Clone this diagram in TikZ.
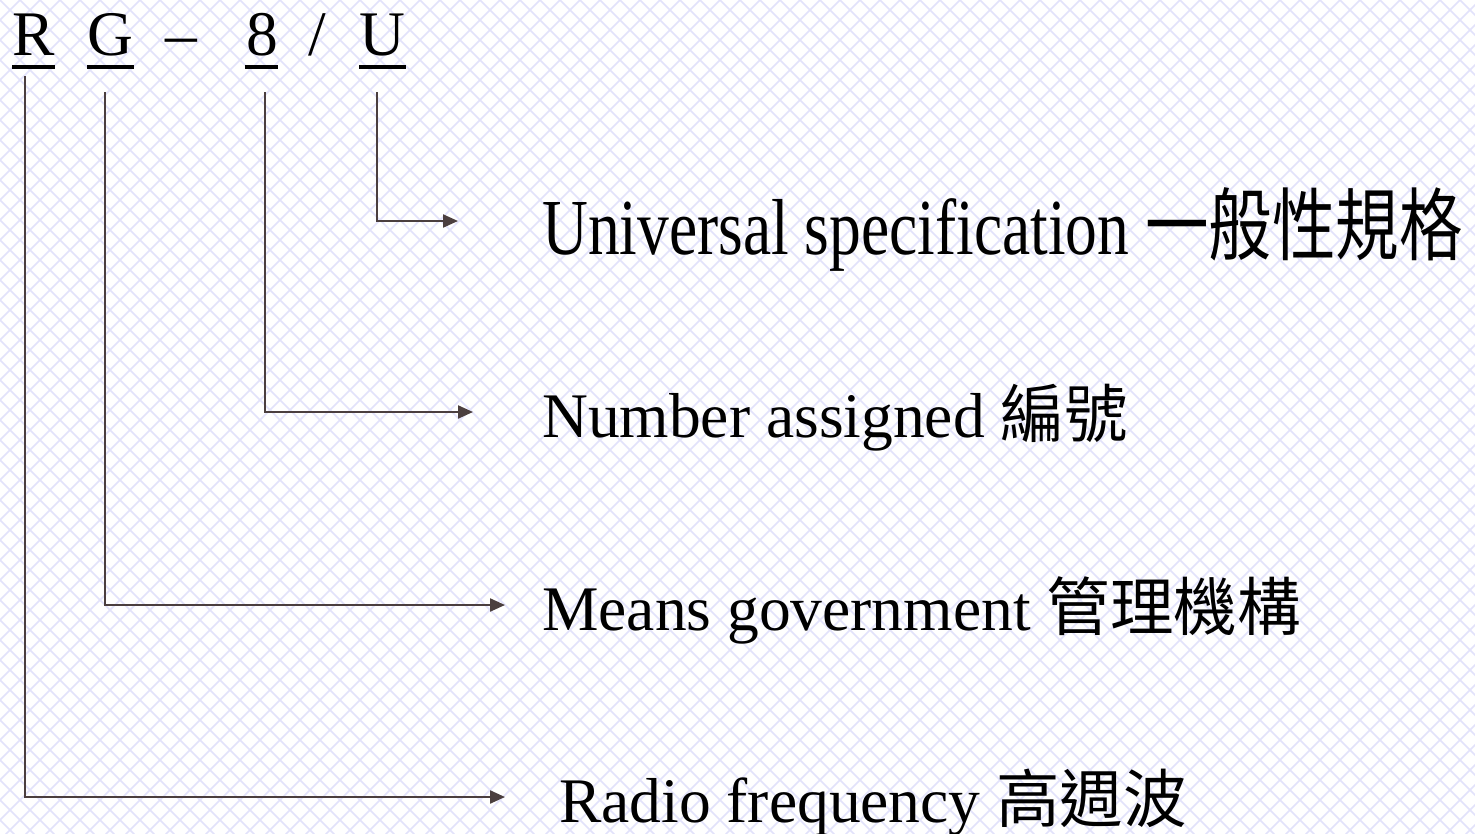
\documentclass[tikz,border=0pt]{standalone}
\usepackage{fontspec}
\setmainfont{Liberation Serif}
\newfontfamily\cjk{Noto Sans CJK TC}
\usetikzlibrary{arrows.meta}
\definecolor{conn}{RGB}{75,63,63}
\definecolor{hatch}{RGB}{226,226,251}
\tikzset{
  conn/.style={draw=conn, line width=2.2pt, -{Triangle[length=15pt,width=13pt]}},
  hdr/.style={anchor=base, inner sep=0pt, font=\fontsize{63.5}{70}\selectfont},
  lbl/.style={anchor=base west, inner sep=0pt, font=\fontsize{63.5}{70}\selectfont},
  ul/.style={line width=4pt, black},
}
\begin{document}
\begin{tikzpicture}[x=1pt, y=-1pt]
\useasboundingbox (0,0) rectangle (1475,833);
\fill[white] (0,0) rectangle (1475,833);
\begin{scope}
\clip (0,0) rectangle (1475,833);
\foreach \i in {-900,-880,...,1500} {
  \draw[hatch, line width=1.5pt] (\i,0) -- ++(900,900);
  \draw[hatch, line width=1.5pt] (\i+900,0) -- ++(-900,900);
}
\end{scope}
% header
\node[hdr] (R) at (33.5,55) {R};
\node[hdr] (G) at (110,55) {G};
\node[hdr] (dash) at (181.5,55) {–};
\node[hdr] (eight) at (262,55) {8};
\node[hdr] (slash) at (317.5,55) {/};
\node[hdr] (U) at (382.5,55) {U};
\draw[ul] (12,67) -- (55,67);
\draw[ul] (87,67) -- (134,67);
\draw[ul] (245,67) -- (278,67);
\draw[ul] (359,67) -- (406,67);
% labels
\node[lbl] (univ) at (542,254) {\scalebox{1}[1.25]{Universal specification {\cjk 一般性規格}}};
\node[lbl] (num) at (542,437) {Number assigned {\cjk 編號}};
\node[lbl] (gov) at (542,630) {Means government {\cjk 管理機構}};
\node[lbl] (radio) at (559,822) {Radio frequency {\cjk 高週波}};
% connector ends
\coordinate (sR) at (25,76);
\coordinate (sG) at (105,92);
\coordinate (s8) at (265,92);
\coordinate (sU) at (377,92);
\coordinate (tR) at (505,797);
\coordinate (tG) at (505,605);
\coordinate (t8) at (473,412);
\coordinate (tU) at (458,221);
\draw[conn] (sR) |- (tR);
\draw[conn] (sG) |- (tG);
\draw[conn] (s8) |- (t8);
\draw[conn] (sU) |- (tU);
\end{tikzpicture}
\end{document}
